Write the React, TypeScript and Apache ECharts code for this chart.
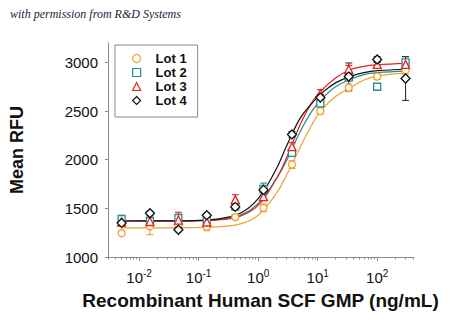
import React, { useEffect, useRef } from "react";
import * as echarts from "echarts";

const lotNames = ["Lot 1", "Lot 2", "Lot 3", "Lot 4"];
const lotColors = ["#F0A030", "#2A8C8C", "#E3231E", "#111111"];
const lotSymbols = ["circle", "rect", "triangle", "diamond"];
const lotSymbolSizes = [7, 7, 8, 9];

const conc = [0.00508, 0.0152, 0.0457, 0.137, 0.412, 1.23, 3.7, 11.1, 33.3, 100, 300];
const lot1 = [1245, 1315, 1330, 1310, 1410, 1505, 1950, 2500, 2740, 2855, 2920];
const lot1Err = [20, 85, 40, 40, 25, 40, 40, 30, 40, 30, 40];
const lot2 = [1390, 1370, 1400, 1375, 1520, 1700, 2070, 2580, 2845, 2750, 3000];
const lot2Err = [40, 40, 40, 30, 30, 60, 30, 30, 30, 20, 60];
const lot3 = [1360, 1365, 1380, 1360, 1590, 1620, 2135, 2680, 2930, 2980, 2980];
const lot3Err = [20, 40, 80, 40, 50, 40, 40, 40, 40, 30, 40];
const lot4 = [1350, 1450, 1280, 1430, 1515, 1690, 2260, 2640, 2855, 3030, 2835];
const lot4Err = [30, 20, 20, 20, 30, 30, 30, 30, 140, 30, 225];

const curveConc = [0.005, 0.05, 0.2, 0.5, 1, 2, 3, 5, 8, 12, 20, 35, 60, 100, 300];
const fit1 = [1300, 1301, 1310, 1340, 1430, 1650, 1840, 2120, 2360, 2520, 2650, 2740, 2820, 2860, 2890];
const fit2 = [1370, 1372, 1385, 1430, 1550, 1800, 1990, 2280, 2500, 2630, 2750, 2825, 2875, 2895, 2910];
const fit3 = [1370, 1371, 1380, 1420, 1530, 1800, 2020, 2350, 2590, 2720, 2840, 2925, 2960, 2975, 2990];
const fit4 = [1370, 1372, 1390, 1450, 1600, 1900, 2140, 2420, 2580, 2690, 2790, 2855, 2895, 2915, 2930];

const yTicks = [1000, 1500, 2000, 2500, 3000];
const xMajorTicks = [0.01, 0.1, 1, 10, 100];
const xMinorTicks = [
  0.003, 0.004, 0.005, 0.006, 0.007, 0.008, 0.009,
  0.02, 0.03, 0.04, 0.05, 0.06, 0.07, 0.08, 0.09,
  0.2, 0.3, 0.4, 0.5, 0.6, 0.7, 0.8, 0.9,
  2, 3, 4, 5, 6, 7, 8, 9,
  20, 30, 40, 50, 60, 70, 80, 90,
  200, 300, 400,
];

const means = [lot1, lot2, lot3, lot4];
const errs = [lot1Err, lot2Err, lot3Err, lot4Err];
const fits = [fit1, fit2, fit3, fit4];

const FONT = "'Liberation Sans', Arial, sans-serif";
const AXIS_COLOR = "#8a8a8a";

export default function App() {
  const ref = useRef<HTMLDivElement>(null);
  useEffect(() => {
    if (!ref.current) return;
    const chart = echarts.init(ref.current, null, { renderer: "svg" });
    const series: any[] = [];
    fits.forEach((f, i) => {
      series.push({
        name: lotNames[i] + " fit",
        type: "line",
        data: curveConc.map((c, j) => [c, f[j]]),
        smooth: 0.4,
        showSymbol: false,
        symbol: "none",
        lineStyle: { color: lotColors[i], width: 1.2 },
        z: 2,
        silent: true,
      });
    });
    means.forEach((m, i) => {
      series.push({
        name: lotNames[i] + " err",
        type: "custom",
        data: conc.map((c, j) => [c, m[j], errs[i][j]]),
        encode: { x: 0, y: 1 },
        z: 3,
        silent: true,
        renderItem: (params: any, api: any) => {
          const x = api.value(0);
          const y = api.value(1);
          const e = api.value(2);
          const top = api.coord([x, y + e]);
          const bot = api.coord([x, y - e]);
          const w = 3.5;
          const st = { stroke: i === 3 ? "#333" : lotColors[i], lineWidth: 1.1 };
          return {
            type: "group",
            children: [
              { type: "line", shape: { x1: top[0], y1: top[1], x2: bot[0], y2: bot[1] }, style: st },
              { type: "line", shape: { x1: top[0] - w, y1: top[1], x2: top[0] + w, y2: top[1] }, style: st },
              { type: "line", shape: { x1: bot[0] - w, y1: bot[1], x2: bot[0] + w, y2: bot[1] }, style: st },
            ],
          };
        },
      });
    });
    means.forEach((m, i) => {
      series.push({
        name: lotNames[i],
        type: "scatter",
        data: conc.map((c, j) => [c, m[j]]),
        symbol: lotSymbols[i],
        symbolSize: lotSymbolSizes[i],
        symbolKeepAspect: true,
        itemStyle: { color: "#ffffff", borderColor: lotColors[i], borderWidth: 1.3, opacity: 1 },
        z: 4 + i,
      });
    });

    chart.setOption({
      animation: false,
      backgroundColor: "#ffffff",
      textStyle: { fontFamily: FONT },
      grid: { left: 108, right: 37, top: 43, bottom: 66, containLabel: false },
      legend: {
        data: lotNames,
        orient: "vertical",
        left: 115,
        top: 45,
        borderColor: "#888",
        borderWidth: 1,
        padding: [7, 11, 10, 17],
        itemWidth: 8,
        itemHeight: 8,
        itemGap: 1,
        symbolKeepAspect: true,
        itemStyle: { borderWidth: 1.2 },
        textStyle: {
          fontFamily: FONT,
          fontSize: 13,
          fontWeight: "bold",
          color: "#111",
          lineHeight: 13,
          padding: [0, 0, 0, 10],
        },
      },
      graphic: [
        {
          type: "text",
          left: 10,
          top: 8,
          style: {
            text: "with permission from R&D Systems",
            fontFamily: "'Liberation Serif', 'DejaVu Serif', serif",
            fontStyle: "italic",
            fontSize: 12,
            fill: "#1c2540",
          },
        },
      ],
      xAxis: [
        {
          type: "log",
          logBase: 10,
          min: 0.003,
          max: 400,
          name: "Recombinant Human SCF GMP (ng/mL)",
          nameLocation: "middle",
          nameGap: 34,
          nameTextStyle: { fontFamily: FONT, fontSize: 19, fontWeight: "bold", color: "#111" },
          axisLine: { show: true, lineStyle: { color: AXIS_COLOR, width: 1 } },
          axisTick: { show: true, customValues: xMajorTicks, length: 4, lineStyle: { color: AXIS_COLOR } },
          splitLine: { show: false },
          minorTick: { show: false },
          axisLabel: {
            customValues: xMajorTicks,
            margin: 11,
            color: "#111",
            fontFamily: FONT,
            fontSize: 15,
            lineHeight: 18,
            formatter: (v: number) => "10{sup|" + Math.round(Math.log10(v)) + "}",
            rich: {
              sup: { fontSize: 10, verticalAlign: "top", lineHeight: 12, color: "#111", fontFamily: FONT },
            },
          },
        },
        {
          type: "log",
          logBase: 10,
          min: 0.003,
          max: 400,
          position: "bottom",
          axisLine: { show: false },
          axisTick: { show: true, customValues: xMinorTicks, length: 2.5, lineStyle: { color: AXIS_COLOR } },
          axisLabel: { show: false },
          splitLine: { show: false },
        },
      ],
      yAxis: {
        type: "value",
        min: 1000,
        max: 3200,
        name: "Mean RFU",
        nameLocation: "middle",
        nameGap: 82,
        nameTextStyle: { fontFamily: FONT, fontSize: 18, fontWeight: "bold", color: "#111" },
        axisLine: { show: true, lineStyle: { color: AXIS_COLOR, width: 1 } },
        axisTick: { show: true, customValues: yTicks, length: 3, lineStyle: { color: AXIS_COLOR } },
        splitLine: { show: false },
        axisLabel: {
          customValues: yTicks,
          margin: 10,
          color: "#111",
          fontFamily: FONT,
          fontSize: 15,
          formatter: (v: number) => String(v),
        },
      },
      series,
    });
    return () => chart.dispose();
  }, []);
  return <div ref={ref} style={{ width: 450, height: 323, margin: -8 }} />;
}
